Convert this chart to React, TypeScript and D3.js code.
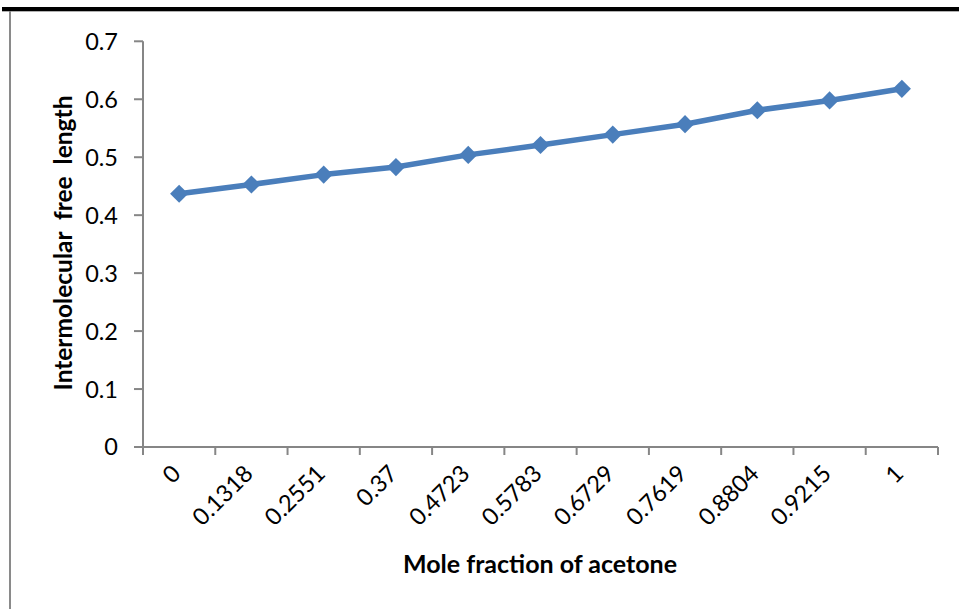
import React from "react";
import * as d3 from "d3";

const categories: string[] = ["0", "0.1318", "0.2551", "0.37", "0.4723", "0.5783", "0.6729", "0.7619", "0.8804", "0.9215", "1"];
const freeLength: number[] = [0.437, 0.453, 0.470, 0.483, 0.504, 0.521, 0.539, 0.557, 0.581, 0.598, 0.618];
const yTicks: number[] = [0, 0.1, 0.2, 0.3, 0.4, 0.5, 0.6, 0.7];

const W = 959;
const H = 609;
const FONT = "Lato, 'Open Sans', sans-serif";

export default function App() {
  const x = d3.scaleBand<string>().domain(categories).range([143, 938]).padding(0);
  const y = d3.scaleLinear().domain([0, 0.7]).range([447, 41.3]);
  const cx = (c: string) => (x(c) as number) + x.bandwidth() / 2;
  const line = d3
    .line<number>()
    .x((_, i) => cx(categories[i]))
    .y((d) => y(d));
  const boundaries = categories.map((c) => x(c) as number).concat([938]);
  const diamond = d3.symbol().type(d3.symbolDiamond2).size(210)();

  return (
    <svg
      width={W}
      height={H}
      style={{ position: "absolute", left: 0, top: 0, background: "#fff" }}
    >
      {/* page decorations */}
      <rect x={2} y={7} width={957} height={4} fill="#000" />
      <rect x={2} y={11} width={957} height={1} fill="#b0b0b0" />
      <rect x={9} y={11} width={2} height={598} fill="#8a8a8a" />

      {/* y axis */}
      <line x1={143} x2={143} y1={y(0.7)} y2={y(0)} stroke="#868686" strokeWidth={2} />
      {yTicks.map((t) => (
        <g key={t}>
          <line x1={134} x2={143} y1={y(t)} y2={y(t)} stroke="#868686" strokeWidth={2} />
          <text
            x={118}
            y={y(t)}
            dy="0.36em"
            textAnchor="end"
            fontFamily={FONT}
            fontSize={23.5}
            fill="#000"
          >
            {t === 0 ? "0" : t.toFixed(1)}
          </text>
        </g>
      ))}

      {/* x axis */}
      <line x1={134} x2={938} y1={y(0)} y2={y(0)} stroke="#868686" strokeWidth={2} />
      {boundaries.map((b, i) => (
        <line key={i} x1={b} x2={b} y1={y(0)} y2={y(0) + 8} stroke="#868686" strokeWidth={2} />
      ))}
      {categories.map((c) => (
        <text
          key={c}
          transform={`translate(${cx(c) + 3},${475}) rotate(-45)`}
          textAnchor="end"
          fontFamily={FONT}
          fontSize={23.5}
          fill="#000"
        >
          {c}
        </text>
      ))}

      {/* series */}
      <path d={line(freeLength) || ""} fill="none" stroke="#4a7ebb" strokeWidth={5.5} strokeLinejoin="round" />
      {freeLength.map((v, i) => (
        <path key={i} d={diamond || ""} transform={`translate(${cx(categories[i])},${y(v)})`} fill="#4a7ebb" />
      ))}

      {/* axis titles */}
      <text
        x={540}
        y={573}
        textAnchor="middle"
        fontFamily={FONT}
        fontWeight="bold"
        fontSize={25}
        fill="#000"
      >
        Mole fraction of acetone
      </text>
      <text
        transform={`translate(72,243) rotate(-90)`}
        textAnchor="middle"
        fontFamily={FONT}
        fontWeight="bold"
        fontSize={24.5}
        fill="#000"
        xmlSpace="preserve"
        style={{ whiteSpace: "pre" }}
      >
        {"Intermolecular  free  length"}
      </text>
    </svg>
  );
}
